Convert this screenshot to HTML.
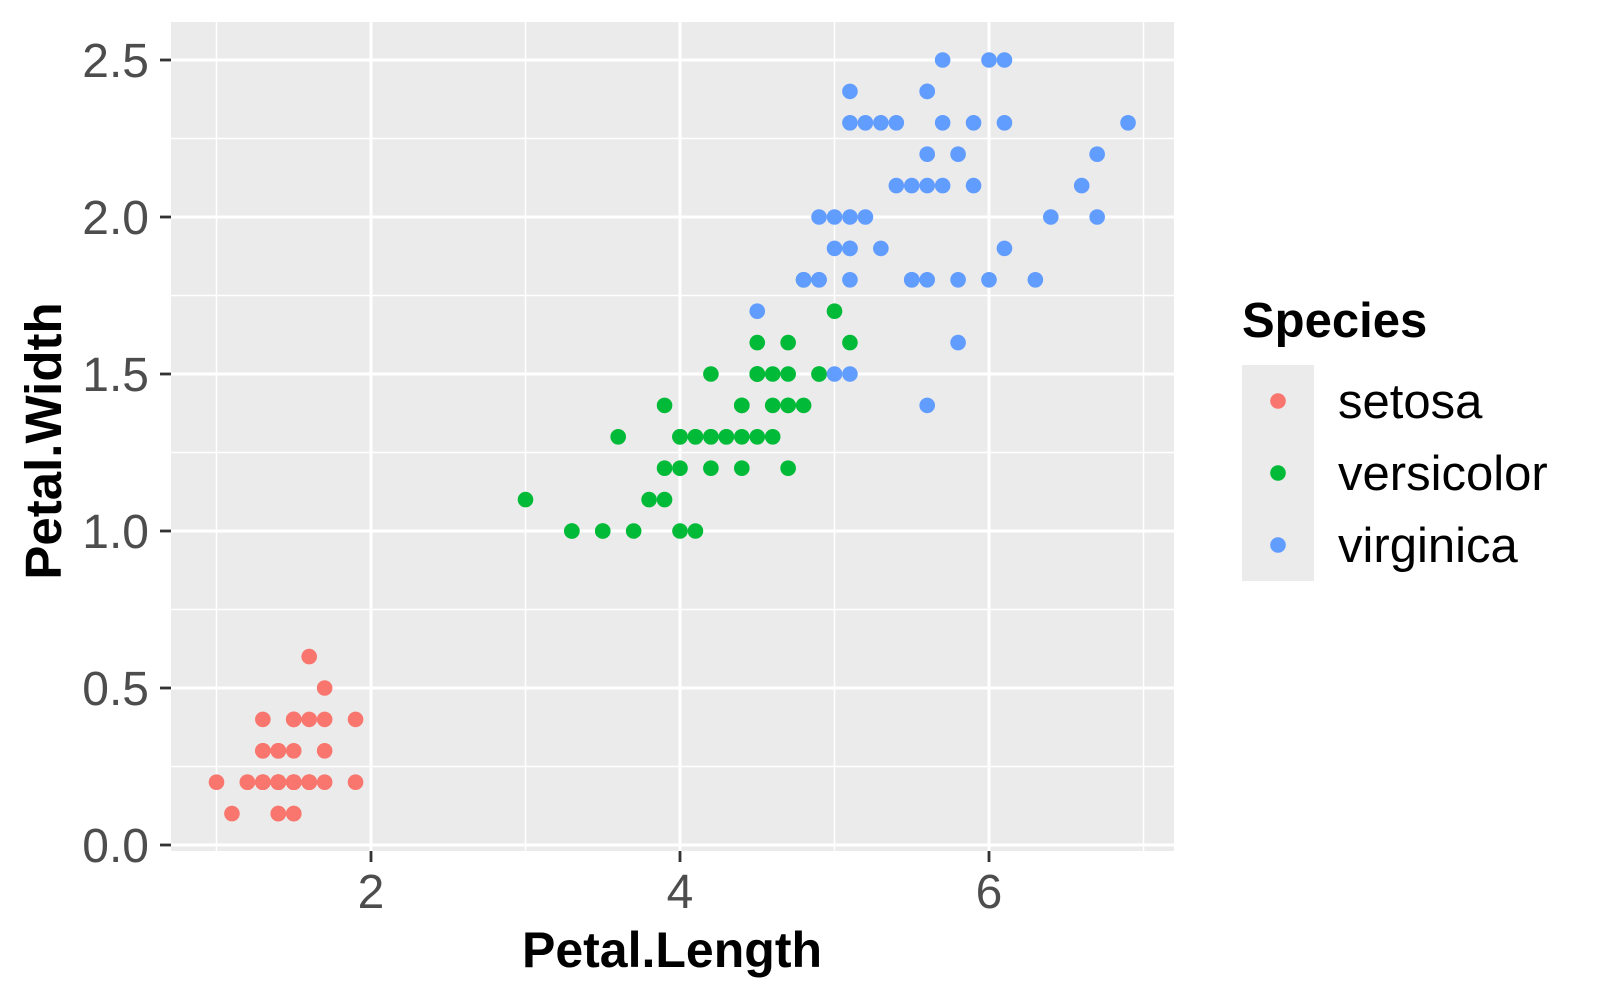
<!DOCTYPE html>
<html><head><meta charset="utf-8"><style>
html,body{margin:0;padding:0;background:#fff;}
svg text{font-family:"Liberation Sans",Arial,sans-serif;}
</style></head><body>
<svg id="chart" width="1600" height="1000" viewBox="0 0 1600 1000" xmlns="http://www.w3.org/2000/svg">
<rect x="171" y="22" width="1003" height="829" fill="#EBEBEB"/>
<g id="grid"></g>
<g id="points"></g>
<g id="axes"></g>
<text x="672" y="967" text-anchor="middle" font-size="50" font-weight="bold" fill="#000">Petal.Length</text>
<text transform="translate(61,441) rotate(-90)" text-anchor="middle" font-size="51" font-weight="bold" fill="#000">Petal.Width</text>
<g>
<text x="1242" y="337" font-size="49" font-weight="bold" fill="#000">Species</text>
<rect x="1242" y="365" width="72" height="216" fill="#EBEBEB"/>
<circle cx="1278" cy="401" r="7.8" fill="#F8766D"/>
<circle cx="1278" cy="473" r="7.8" fill="#00BA38"/>
<circle cx="1278" cy="545" r="7.8" fill="#619CFF"/>
<text x="1338" y="418" font-size="49" fill="#000">setosa</text>
<text x="1338" y="490" font-size="49" fill="#000">versicolor</text>
<text x="1338" y="562" font-size="49" fill="#000">virginica</text>
</g>
</svg>
<script>
const setosaLength=[1.4,1.4,1.3,1.5,1.4,1.7,1.4,1.5,1.4,1.5,1.5,1.6,1.4,1.1,1.2,1.5,1.3,1.4,1.7,1.5,1.7,1.5,1.0,1.7,1.9,1.6,1.6,1.5,1.4,1.6,1.6,1.5,1.5,1.4,1.5,1.2,1.3,1.4,1.3,1.5,1.3,1.3,1.3,1.6,1.9,1.4,1.6,1.4,1.5,1.4];
const setosaWidth=[0.2,0.2,0.2,0.2,0.2,0.4,0.3,0.2,0.2,0.1,0.2,0.2,0.1,0.1,0.2,0.4,0.4,0.3,0.3,0.3,0.2,0.4,0.2,0.5,0.2,0.2,0.4,0.2,0.2,0.2,0.2,0.4,0.1,0.2,0.2,0.2,0.2,0.1,0.2,0.2,0.3,0.3,0.2,0.6,0.4,0.3,0.2,0.2,0.2,0.2];
const versicolorLength=[4.7,4.5,4.9,4.0,4.6,4.5,4.7,3.3,4.6,3.9,3.5,4.2,4.0,4.7,3.6,4.4,4.5,4.1,4.5,3.9,4.8,4.0,4.9,4.7,4.3,4.4,4.8,5.0,4.5,3.5,3.8,3.7,3.9,5.1,4.5,4.5,4.7,4.4,4.1,4.0,4.4,4.6,4.0,3.3,4.2,4.2,4.2,4.3,3.0,4.1];
const versicolorWidth=[1.4,1.5,1.5,1.3,1.5,1.3,1.6,1.0,1.3,1.4,1.0,1.5,1.0,1.4,1.3,1.4,1.5,1.0,1.5,1.1,1.8,1.3,1.5,1.2,1.3,1.4,1.4,1.7,1.5,1.0,1.1,1.0,1.2,1.6,1.5,1.6,1.5,1.3,1.3,1.3,1.2,1.4,1.2,1.0,1.3,1.2,1.3,1.3,1.1,1.3];
const virginicaLength=[6.0,5.1,5.9,5.6,5.8,6.6,4.5,6.3,5.8,6.1,5.1,5.3,5.5,5.0,5.1,5.3,5.5,6.7,6.9,5.0,5.7,4.9,6.7,4.9,5.7,6.0,4.8,4.9,5.6,5.8,6.1,6.4,5.6,5.1,5.6,6.1,5.6,5.5,4.8,5.4,5.6,5.1,5.1,5.9,5.7,5.2,5.0,5.2,5.4,5.1];
const virginicaWidth=[2.5,1.9,2.1,1.8,2.2,2.1,1.7,1.8,1.8,2.5,2.0,1.9,2.1,2.0,2.4,2.3,1.8,2.2,2.3,1.5,2.3,2.0,2.0,1.8,2.1,1.8,1.8,1.8,2.1,1.6,1.9,2.0,2.2,1.5,1.4,2.3,2.4,1.8,1.8,2.1,2.4,2.3,1.9,2.3,2.5,2.3,1.9,2.0,2.3,1.8];
const xMajorTicks=[2,4,6];
const xMinorTicks=[1,3,5,7];
const yMajorTicks=[0,0.5,1.0,1.5,2.0,2.5];
const yTickLabels=["0.0","0.5","1.0","1.5","2.0","2.5"];
const yMinorTicks=[0.25,0.75,1.25,1.75,2.25];

const NS="http://www.w3.org/2000/svg";
const PL=171,PR=1174,PT=22,PB=851;
function xs(v){return 216.5+(v-1)*154.5;}
function ys(v){return 845-v*314;}
function mk(tag,attrs,parent){const e=document.createElementNS(NS,tag);for(const k in attrs)e.setAttribute(k,attrs[k]);parent.appendChild(e);return e;}
const grid=document.getElementById('grid'),pts=document.getElementById('points'),axes=document.getElementById('axes');
xMinorTicks.forEach(v=>{const l=mk('line',{x1:xs(v),x2:xs(v),y1:PT,y2:PB,stroke:'#fff','stroke-width':1.5},grid);

});
yMinorTicks.forEach(v=>{const l=mk('line',{x1:PL,x2:PR,y1:ys(v),y2:ys(v),stroke:'#fff','stroke-width':1.5},grid);

});
xMajorTicks.forEach(v=>{const l=mk('line',{x1:xs(v),x2:xs(v),y1:PT,y2:PB,stroke:'#fff','stroke-width':3},grid);


const t=mk('line',{x1:xs(v),x2:xs(v),y1:PB,y2:PB+11,stroke:'#333','stroke-width':2.8},axes);


const tx=mk('text',{x:xs(v),y:908,'text-anchor':'middle','font-size':48,fill:'#4D4D4D'},axes);tx.textContent=String(v);

});
yMajorTicks.forEach((v,i)=>{const l=mk('line',{x1:PL,x2:PR,y1:ys(v),y2:ys(v),stroke:'#fff','stroke-width':3},grid);


const t=mk('line',{x1:PL-11,x2:PL,y1:ys(v),y2:ys(v),stroke:'#333','stroke-width':2.8},axes);


const tx=mk('text',{x:149,y:ys(v)+17,'text-anchor':'end','font-size':48,fill:'#4D4D4D'},axes);tx.textContent=yTickLabels[i];

});
function drawSeries(xsArr,ysArr,color,name){xsArr.forEach((x,i)=>{const c=mk('circle',{cx:xs(x),cy:ys(ysArr[i]),r:7.8,fill:color},pts);

});}
drawSeries(setosaLength,setosaWidth,'#F8766D','setosa');
drawSeries(versicolorLength,versicolorWidth,'#00BA38','versicolor');
drawSeries(virginicaLength,virginicaWidth,'#619CFF','virginica');
</script>
</body></html>
